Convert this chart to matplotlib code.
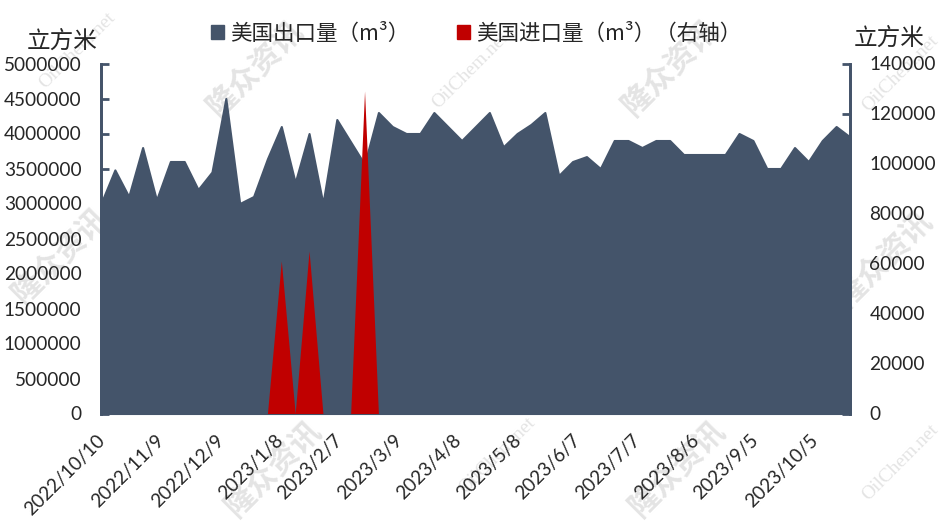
import pandas as pd
import matplotlib
matplotlib.use('Agg')
import matplotlib.pyplot as plt
import matplotlib.dates as mdates
from matplotlib.patches import Patch
from matplotlib.ticker import FuncFormatter
from matplotlib.transforms import ScaledTranslation

plt.rcParams['font.family'] = ['Noto Sans CJK SC', 'DejaVu Sans']

# weekly values
start_date = '2022-10-10'
export_m3 = [3000000, 3480000, 3100000, 3800000, 3050000, 3600000, 3600000, 3200000, 3450000, 4500000,
             3000000, 3100000, 3640000, 4100000, 3300000, 4000000, 3000000, 4200000, 3880000, 3560000,
             4300000, 4100000, 4000000, 4000000, 4300000, 4100000, 3900000, 4100000, 4300000, 3810000,
             4000000, 4130000, 4300000, 3400000, 3600000, 3670000, 3500000, 3900000, 3900000, 3800000,
             3900000, 3900000, 3700000, 3700000, 3700000, 3700000, 4000000, 3900000, 3500000, 3500000,
             3800000, 3600000, 3900000, 4100000, 3950000]
import_m3 = [0] * 12 + [0, 61000, 0, 65000, 0, 0, 0, 129000, 0] + [0] * 34
left_ticks = [0, 500000, 1000000, 1500000, 2000000, 2500000, 3000000, 3500000, 4000000, 4500000, 5000000]
right_ticks = [0, 20000, 40000, 60000, 80000, 100000, 120000, 140000]
date_ticks = ['2022-10-10', '2022-11-09', '2022-12-09', '2023-01-08', '2023-02-07', '2023-03-09',
              '2023-04-08', '2023-05-08', '2023-06-07', '2023-07-07', '2023-08-06', '2023-09-05', '2023-10-05']

navy = '#44546A'
red = '#C00000'
text_color = '#262626'

W, H = 940, 530
dates = pd.date_range(start_date, periods=len(export_m3), freq='7D')

fig = plt.figure(figsize=(W / 100, H / 100), dpi=100)
ax = fig.add_axes([101 / W, 1 - 413.5 / H, 749 / W, 350 / H])
ax2 = ax.twinx()

# watermarks sit behind the chart
for x, y in [(255, 68), (670, 67), (60, 255), (884, 258), (273, 468), (677, 468)]:
    fig.text(x / W, 1 - y / H, '隆众资讯', fontsize=22, fontweight='bold', color='#e4e4e4',
             rotation=45, ha='center', va='center', zorder=-5)
for x, y in [(77, 50), (470, 70), (900, 73), (497, 455), (900, 462)]:
    fig.text(x / W, 1 - y / H, 'OilChem.net', fontsize=14, family='Liberation Serif', color='#e4e4e4',
             rotation=45, ha='center', va='center', zorder=-5)
ax.patch.set_alpha(0)
ax2.patch.set_alpha(0)

ax.fill_between(dates, export_m3, 0, color=navy, lw=1.5, clip_on=False)
ax2.fill_between(dates, import_m3, 0, color=red, lw=0)
ax.set_xlim(dates[0], dates[-1])
ax.set_ylim(0, 5000000)
ax2.set_ylim(0, 140000)

ax.set_yticks(left_ticks)
ax2.set_yticks(right_ticks)
ax.yaxis.set_major_formatter(FuncFormatter(lambda v, p: f'{int(v)}'))
ax2.yaxis.set_major_formatter(FuncFormatter(lambda v, p: f'{int(v)}'))
ax.set_xticks(pd.to_datetime(date_ticks))
ax.xaxis.set_major_formatter(mdates.DateFormatter('%Y/%-m/%-d'))

for a in (ax, ax2):
    for s in ('top', 'bottom'):
        a.spines[s].set_visible(False)
    a.spines['left'].set_color(navy)
    a.spines['right'].set_color(navy)
    a.spines['left'].set_linewidth(2)
    a.spines['right'].set_linewidth(2)
    a.tick_params(axis='y', direction='in', length=6, width=2, color=navy, pad=14,
                  labelsize=13.7, labelcolor=text_color, labelfontfamily='Lato')
ax.tick_params(axis='x', length=0, pad=13, labelsize=13.7, labelcolor=text_color, labelfontfamily='Lato')
shift = ScaledTranslation(-5 / 100, 0, fig.dpi_scale_trans)
for lab in ax.get_xticklabels():
    lab.set_rotation(45)
    lab.set_ha('right')
    lab.set_rotation_mode('anchor')
    lab.set_transform(lab.get_transform() + shift)

fig.text(62 / W, 1 - 41 / H, '立方米', fontsize=17, color=text_color, ha='center', va='center')
fig.text(889 / W, 1 - 38 / H, '立方米', fontsize=17, color=text_color, ha='center', va='center')

handles = [Patch(color=navy), Patch(color=red)]
names = ['美国出口量（m³）', '美国进口量（m³）（右轴）']
fig.legend(handles, names, ncol=2, frameon=False, fontsize=15.5, labelcolor=text_color,
           loc='center left', bbox_to_anchor=(211 / W, 1 - 34 / H), borderaxespad=0, borderpad=0,
           handlelength=0.62, handleheight=0.62, handletextpad=0.25, columnspacing=2.23)

fig.savefig('out.png', dpi=100)
